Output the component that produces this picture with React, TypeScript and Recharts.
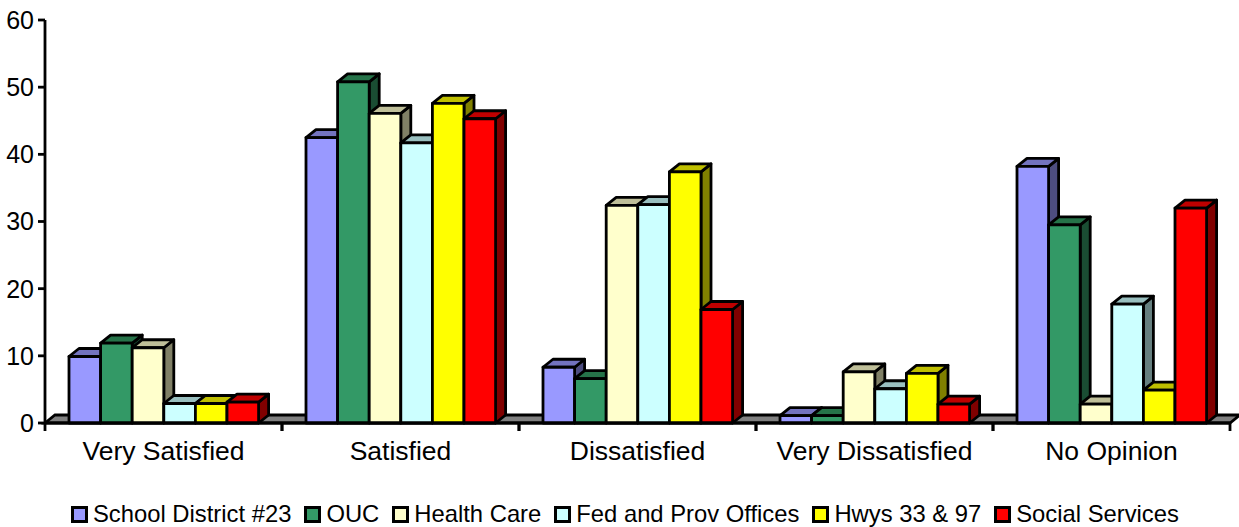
import React from 'react';
import { BarChart, Bar, XAxis, YAxis, Legend, usePlotArea } from 'recharts';

const categories = ['Very Satisfied', 'Satisfied', 'Dissatisfied', 'Very Dissatisfied', 'No Opinion'];
const seriesNames = ['School District #23', 'OUC', 'Health Care', 'Fed and Prov Offices', 'Hwys 33 & 97', 'Social Services'];
const schoolDistrict = [9.9, 42.5, 8.3, 1.1, 38.2];
const ouc = [11.9, 50.8, 6.6, 1.1, 29.5];
const healthCare = [11.2, 46.1, 32.4, 7.6, 2.8];
const fedProv = [2.9, 41.7, 32.5, 5.1, 17.7];
const hwys = [2.9, 47.6, 37.4, 7.4, 4.9];
const socialServices = [3.1, 45.3, 16.9, 2.8, 32];
const yTicks = [0, 10, 20, 30, 40, 50, 60];

const seriesValues = [schoolDistrict, ouc, healthCare, fedProv, hwys, socialServices];
const keys = ['s0', 's1', 's2', 's3', 's4', 's5'];
const data = categories.map((name, i) => {
  const row: Record<string, string | number> = { name };
  keys.forEach((k, j) => { row[k] = seriesValues[j][i]; });
  return row;
});

const colors = ['#9999ff', '#339966', '#ffffcc', '#ccffff', '#ffff00', '#ff0000'];
const topColors = ['#7373bf', '#267349', '#bfbf99', '#99bfbf', '#bfbf00', '#bf0000'];
const sideColors = ['#4d4d80', '#1a4d33', '#808066', '#668080', '#808000', '#800000'];

const DX = 10;
const DY = 8;
const FONT = '"Liberation Sans", Arial, sans-serif';
const INK = '#000';
const LINE = 2.8;

function Bar3D(props: any) {
  const { x, y, width, height, colorIndex } = props;
  const stroke = { stroke: INK, strokeWidth: LINE, strokeLinejoin: 'round' as const };
  return (
    <g>
      <polygon
        points={`${x + width},${y} ${x + width + DX},${y - DY} ${x + width + DX},${y + height - DY} ${x + width},${y + height}`}
        fill={sideColors[colorIndex]}
        {...stroke}
      />
      <polygon
        points={`${x},${y} ${x + DX},${y - DY} ${x + width + DX},${y - DY} ${x + width},${y}`}
        fill={topColors[colorIndex]}
        {...stroke}
      />
      <rect x={x} y={y} width={width} height={height} fill={colors[colorIndex]} {...stroke} />
    </g>
  );
}

function Floor() {
  const plot = usePlotArea();
  if (!plot) return null;
  const left = plot.x;
  const right = plot.x + plot.width;
  const base = plot.y + plot.height;
  return (
    <polygon
      points={`${left},${base} ${left + DX},${base - DY} ${right + DX},${base - DY} ${right},${base}`}
      fill="#808080"
      stroke={INK}
      strokeWidth={LINE}
    />
  );
}

function CategoryTick(props: any) {
  const { x, y, payload } = props;
  const half = 118.5;
  return (
    <g>
      <line x1={x - half} x2={x - half} y1={y - 8} y2={y} stroke={INK} strokeWidth={LINE} />
      <line x1={x + half} x2={x + half} y1={y - 8} y2={y} stroke={INK} strokeWidth={LINE} />
      <text x={x} y={y + 29} textAnchor="middle" fontSize={26.5} fontFamily={FONT} fill={INK}>
        {payload.value}
      </text>
    </g>
  );
}

function LegendRow(props: any) {
  const { payload } = props;
  return (
    <div style={{ display: 'flex', alignItems: 'center', paddingLeft: 71, fontFamily: FONT, fontSize: 23.8, color: INK, height: 30, whiteSpace: 'nowrap' }}>
      {(payload || []).map((item: any, i: number) => (
        <span key={item.value} style={{ display: 'flex', alignItems: 'center', marginRight: 13 }}>
          <span style={{ display: 'inline-block', boxSizing: 'border-box', width: 17, height: 17, background: colors[i], border: `3px solid ${INK}`, marginRight: 5 }} />
          {item.value}
        </span>
      ))}
    </div>
  );
}

export default function App() {
  return (
    <div style={{ position: 'absolute', left: 0, top: 0, width: 1239, height: 527, background: '#fff' }}>
      <BarChart
        width={1239}
        height={527}
        data={data}
        margin={{ top: 20, right: 9, bottom: 34, left: 0 }}
        barSize={31.6}
        barGap={0}
      >
        <Floor />
        <XAxis
          dataKey="name"
          height={40}
          interval={0}
          tick={<CategoryTick />}
          tickLine={false}
          axisLine={{ stroke: INK, strokeWidth: LINE }}
        />
        <YAxis
          width={45}
          domain={[0, 60]}
          ticks={yTicks}
          interval={0}
          tickSize={7}
          tickMargin={4}
          tickLine={{ stroke: INK, strokeWidth: LINE }}
          axisLine={{ stroke: INK, strokeWidth: LINE }}
          tick={{ fontSize: 25, fontFamily: FONT, fill: INK }}
        />
        <Legend content={<LegendRow />} verticalAlign="bottom" height={30} itemSorter={null} wrapperStyle={{ top: 499, bottom: 'auto', left: 0, width: 1239 }} />
        {keys.map((k, i) => (
          <Bar
            key={k}
            dataKey={k}
            name={seriesNames[i]}
            fill={colors[i]}
            isAnimationActive={false}
            shape={(p: any) => <Bar3D {...p} colorIndex={i} />}
          />
        ))}
      </BarChart>
    </div>
  );
}
